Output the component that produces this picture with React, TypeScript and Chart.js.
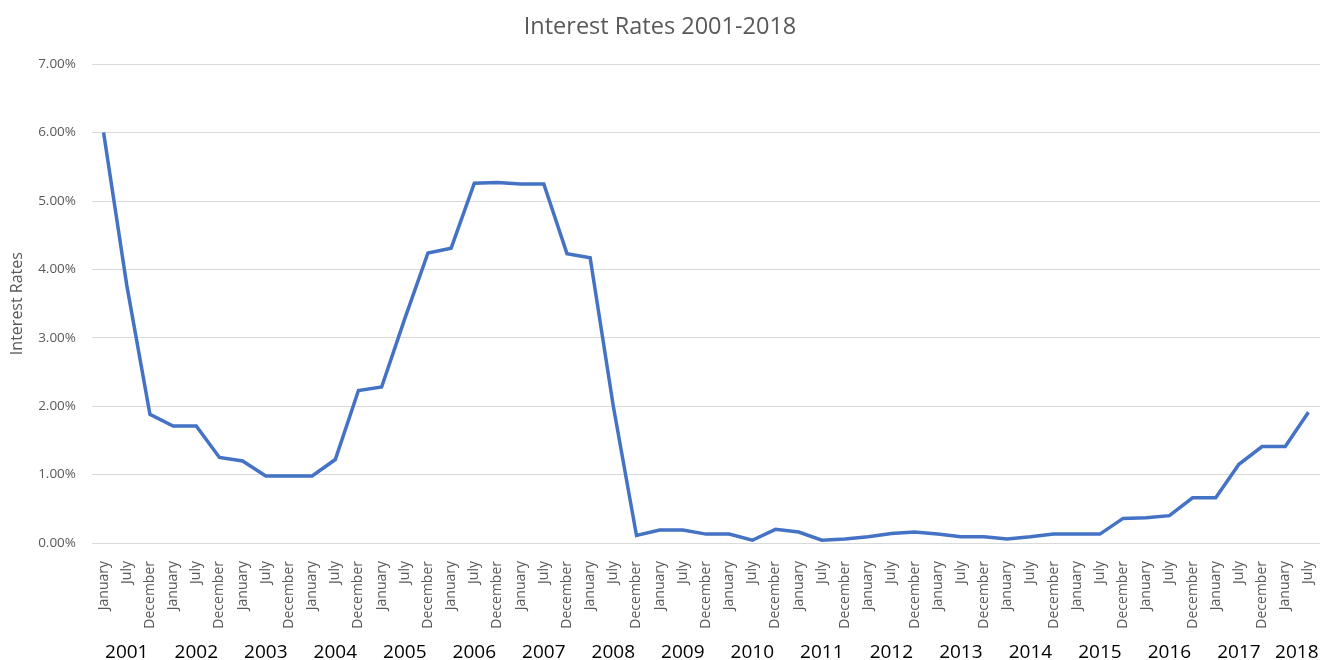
import React, { useEffect, useRef } from 'react';
import { Chart, registerables } from 'chart.js';

Chart.register(...registerables);

const years = ['2001', '2002', '2003', '2004', '2005', '2006', '2007', '2008', '2009', '2010', '2011', '2012', '2013', '2014', '2015', '2016', '2017', '2018'];
const periods = ['January', 'July', 'December'];
const finalYearPeriods = ['January', 'July'];
const rates = [
  6.00, 3.77, 1.88,
  1.71, 1.71, 1.25,
  1.20, 0.98, 0.98,
  0.98, 1.22, 2.23,
  2.28, 3.28, 4.24,
  4.31, 5.26, 5.27,
  5.25, 5.25, 4.23,
  4.17, 2.00, 0.11,
  0.19, 0.19, 0.13,
  0.13, 0.04, 0.20,
  0.16, 0.04, 0.06,
  0.09, 0.14, 0.16,
  0.13, 0.09, 0.09,
  0.06, 0.09, 0.13,
  0.13, 0.13, 0.36,
  0.37, 0.40, 0.66,
  0.66, 1.15, 1.41,
  1.41, 1.91,
];
const yTicks = [0, 1, 2, 3, 4, 5, 6, 7];

const monthLabels: string[] = [];
const yearOfPoint: number[] = [];
years.forEach((_, yi) => {
  const ps = yi === years.length - 1 ? finalYearPeriods : periods;
  ps.forEach((p) => {
    monthLabels.push(p);
    yearOfPoint.push(yi);
  });
});
const yearCenters = years.map((_, yi) => {
  const idx = yearOfPoint.map((v, i) => (v === yi ? i : -1)).filter((i) => i >= 0);
  return (idx[0] + idx[idx.length - 1]) / 2;
});

const zeroSidePadding = (s: any) => {
  s.paddingLeft = 0;
  s.paddingRight = 0;
};

export default function App() {
  const ref = useRef<HTMLCanvasElement | null>(null);
  useEffect(() => {
    document.body.style.margin = '0';
    document.body.style.overflow = 'hidden';
    Chart.defaults.font.family = "'Open Sans', sans-serif";
    const ctx = ref.current!;
    const chart = new Chart(ctx, {
      type: 'line',
      data: {
        labels: monthLabels,
        datasets: [
          {
            label: 'Interest Rates',
            data: rates,
            borderColor: '#4472C4',
            backgroundColor: '#4472C4',
            borderWidth: 3.5,
            pointRadius: 0,
            tension: 0,
            fill: false,
            xAxisID: 'x',
            yAxisID: 'y',
          },
        ],
      },
      options: {
        responsive: false,
        animation: false,
        layout: { padding: { left: 0, right: 6, top: 0, bottom: 0 } },
        plugins: {
          legend: { display: false },
          tooltip: { enabled: false },
          title: {
            display: true,
            text: 'Interest Rates 2001-2018',
            color: '#595959',
            font: { size: 23.5, weight: 'normal' },
            padding: { top: 13, bottom: 23 },
          },
        },
        scales: {
          x: {
            type: 'category',
            position: 'bottom',
            offset: true,
            grid: { display: false },
            border: { display: false },
            ticks: {
              autoSkip: false,
              minRotation: 90,
              maxRotation: 90,
              padding: 10,
              color: '#595959',
              font: { size: 14 },
            },
            afterFit: (s: any) => {
              s.height = 90;
              zeroSidePadding(s);
            },
          },
          x2: {
            type: 'linear',
            position: 'bottom',
            min: -0.5,
            max: monthLabels.length - 0.5,
            grid: { display: false },
            border: { display: false },
            afterBuildTicks: (s: any) => {
              s.ticks = yearCenters.map((v) => ({ value: v }));
            },
            ticks: {
              autoSkip: false,
              maxRotation: 0,
              minRotation: 0,
              padding: 0,
              color: '#000000',
              font: { size: 19 },
              callback: (_v: any, i: number) => years[i],
            },
            afterFit: (s: any) => {
              s.height = 27;
              zeroSidePadding(s);
            },
          },
          y: {
            min: 0,
            max: 7,
            afterBuildTicks: (s: any) => {
              s.ticks = yTicks.map((v) => ({ value: v }));
            },
            grid: { color: '#d9d9d9', lineWidth: 1, drawTicks: false },
            border: { display: false },
            ticks: {
              padding: 16,
              color: '#595959',
              font: { size: 13.5 },
              callback: (v: any) => Number(v).toFixed(2) + '%',
            },
            title: {
              display: true,
              text: 'Interest Rates',
              color: '#595959',
              font: { size: 16 },
              padding: { top: 8, bottom: 0 },
            },
            afterFit: (s: any) => {
              s.width = 92;
            },
          },
        },
      },
    } as any);
    return () => chart.destroy();
  }, []);
  return (
    <div style={{ width: 1326, height: 660 }}>
      <canvas ref={ref} width={1326} height={660} style={{ display: 'block' }} />
    </div>
  );
}
